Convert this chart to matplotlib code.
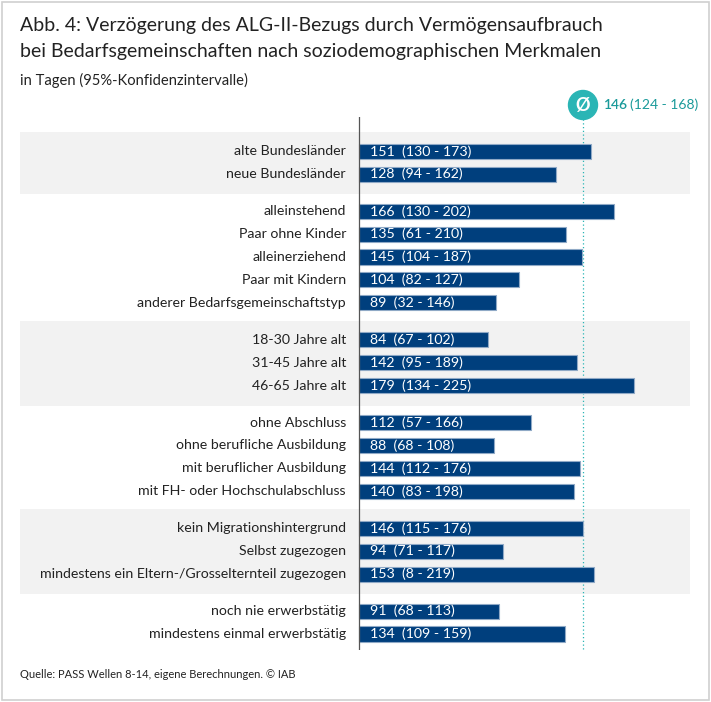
import matplotlib.pyplot as plt
from matplotlib.patches import Rectangle, Circle

plt.rcParams['font.family'] = ['Lato', 'DejaVu Sans']

# Daten (Tage, 95%-KI)
gruppen = [
    ["alte Bundesländer", "neue Bundesländer"],
    ["alleinstehend", "Paar ohne Kinder", "alleinerziehend", "Paar mit Kindern",
     "anderer Bedarfsgemeinschaftstyp"],
    ["18-30 Jahre alt", "31-45 Jahre alt", "46-65 Jahre alt"],
    ["ohne Abschluss", "ohne berufliche Ausbildung", "mit beruflicher Ausbildung",
     "mit FH- oder Hochschulabschluss"],
    ["kein Migrationshintergrund", "Selbst zugezogen",
     "mindestens ein Eltern-/Grosselternteil zugezogen"],
    ["noch nie erwerbstätig", "mindestens einmal erwerbstätig"],
]
werte = [151, 128, 166, 135, 145, 104, 89, 84, 142, 179, 112, 88, 144, 140, 146, 94, 153, 91, 134]
ki_unten = [130, 94, 130, 61, 104, 82, 32, 67, 95, 134, 57, 68, 112, 83, 115, 71, 8, 68, 109]
ki_oben = [173, 162, 202, 210, 187, 127, 146, 102, 189, 225, 166, 108, 176, 198, 176, 117, 219, 113, 159]
mittel, mittel_lo, mittel_hi = 146, 124, 168

blau = "#003f7d"
teal = "#2bb5b5"
W, H = 711, 702

fig = plt.figure(figsize=(W / 100, H / 100), dpi=100)
fig.patches.append(Rectangle((2 / W, 2 / H), 1 - 4 / W, 1 - 4 / H, transform=fig.transFigure,
                             fill=False, edgecolor="#d0d0d0", linewidth=1.2))

ax = fig.add_axes([20 / W, 1 - 650 / H, 670 / W, 533 / H])
ax.set_xlim(-220.7, 215.5)
ax.set_ylim(21.8, -1.5)
ax.axis("off")

# Positionen
pos, labels, bands = [], [], []
i = 0
for g, grp in enumerate(gruppen):
    start = i + g * 0.62
    for lab in grp:
        pos.append(i + g * 0.62)
        labels.append(lab)
        i += 1
    bands.append((start, pos[-1]))

for g, (a, b) in enumerate(bands):
    if g % 2 == 0:
        ax.axhspan(a - 0.84, b + 0.88, color="#f2f2f2", zorder=0, lw=0)

ax.barh(pos, werte, height=0.66, color=blau, edgecolor="#8fa9c6", linewidth=0.8, zorder=2)

for y, lab, v, lo, hi in zip(pos, labels, werte, ki_unten, ki_oben):
    ax.text(-8.5, y, lab, ha="right", va="center", fontsize=10.2, color="#222222")
    ax.text(7, y, f"{v}  ({lo} - {hi})", ha="left", va="center", fontsize=10.2,
            color="white", zorder=3)

ax.axvline(0, ymin=0, ymax=1, color="#555555", linewidth=0.9, zorder=3)
ax.plot([mittel, mittel], [-1.4, 21.8], color=teal, linestyle=(0, (1, 2)), linewidth=0.9,
        zorder=1, clip_on=False)

# Mittelwert-Marker
cx, cy = 583 / W, 1 - 105 / H
fig.patches.append(Circle((583, H - 105), 14.5, transform=None, color=teal, zorder=5))
fig.text(cx, cy, "Ø", ha="center", va="center", color="white", fontsize=13,
         fontweight="bold", zorder=6)
t1 = fig.text(603 / W, cy, f"{mittel}", ha="left", va="center", color="#1a9a9a",
              fontsize=10, fontweight="semibold")
fig.canvas.draw()
bb = t1.get_window_extent()
fig.text((bb.x1 + 3) / W, cy, f"({mittel_lo} - {mittel_hi})", ha="left", va="center",
         color="#1a9a9a", fontsize=10)

fig.text(20 / W, 1 - 26 / H, "Abb. 4: Verzögerung des ALG-II-Bezugs durch Vermögensaufbrauch",
         ha="left", va="center", fontsize=14, color="#222222")
fig.text(20 / W, 1 - 51 / H, "bei Bedarfsgemeinschaften nach soziodemographischen Merkmalen",
         ha="left", va="center", fontsize=14, color="#222222")
fig.text(20 / W, 1 - 80 / H, "in Tagen (95%-Konfidenzintervalle)", ha="left", va="center",
         fontsize=10.6, color="#222222")
fig.text(20 / W, 1 - 674 / H, "Quelle: PASS Wellen 8-14, eigene Berechnungen. © IAB",
         ha="left", va="center", fontsize=8, color="#222222")

fig.savefig("out.png", dpi=100)
